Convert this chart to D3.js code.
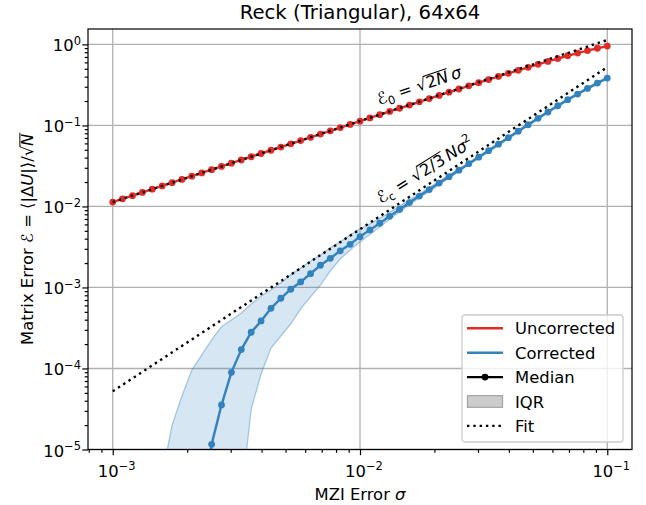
<!DOCTYPE html>
<html>
<head>
<meta charset="utf-8">
<script src="https://cdn.jsdelivr.net/npm/d3@7"></script>
<style>
  body { margin: 0; background: #fff; }
  text { font-family: "DejaVu Sans", sans-serif; fill: #000; }
</style>
</head>
<body>
<div class="canvas"></div>
<script>
// MZI error sigma (log spaced, 25 per decade)
const sigma = [0.001, 0.001096, 0.001202, 0.001318, 0.001445, 0.001585, 0.001738, 0.001905, 0.002089, 0.002291,
  0.002512, 0.002754, 0.00302, 0.003311, 0.003631, 0.003981, 0.004365, 0.004786, 0.005248, 0.005754,
  0.00631, 0.006918, 0.007586, 0.008318, 0.00912, 0.01, 0.010965, 0.012023, 0.013183, 0.014454,
  0.015849, 0.017378, 0.019055, 0.020893, 0.022909, 0.025119, 0.027542, 0.0302, 0.033113, 0.036308,
  0.039811, 0.043652, 0.047863, 0.052481, 0.057544, 0.063096, 0.069183, 0.075858, 0.083176, 0.091201, 0.1];

const uncorrected = [0.01131, 0.0124, 0.01359, 0.01491, 0.01634, 0.01793, 0.01966, 0.02155, 0.02363, 0.02591,
  0.02841, 0.03114, 0.03415, 0.03744, 0.04106, 0.04502, 0.04936, 0.05411, 0.05933, 0.06505,
  0.07132, 0.07818, 0.08572, 0.09398, 0.103, 0.1129, 0.1238, 0.1357, 0.1487, 0.1629,
  0.1785, 0.1956, 0.2143, 0.2347, 0.257, 0.2813, 0.3078, 0.3367, 0.3681, 0.4021,
  0.4391, 0.4789, 0.5219, 0.5679, 0.617, 0.669, 0.7237, 0.7804, 0.8385, 0.8968, 0.9534];

// corrected: median and quartiles (null = not plotted / far below the axis)
const correctedMedian = [null, null, null, null, null, null, null, null, null, 1e-6,
  1.16e-5, 3.55e-5, 8.97e-5, 1.71e-4, 2.8e-4, 3.86e-4, 5.53e-4, 7.36e-4, 9.51e-4, 1.17e-3,
  1.48e-3, 1.88e-3, 2.29e-3, 2.83e-3, 3.41e-3, 4.24e-3, 5.125e-3, 6.199e-3, 7.544e-3, 9.179e-3,
  0.011166, 0.013426, 0.016141, 0.019406, 0.023331, 0.028049, 0.033723, 0.040543, 0.048743, 0.058604,
  0.070457, 0.084709, 0.10184, 0.12243, 0.14634, 0.1749, 0.20777, 0.24378, 0.28585, 0.33278, 0.38441];

const correctedQ75 = [null, null, null, null, null, 4.8e-6, 2.0e-5, 4.57e-5, 9.57e-5, 1.47e-4,
  2.25e-4, 3.28e-4, 3.97e-4, 4.84e-4, 6.25e-4, 7.85e-4, 9.31e-4, 1.14e-3, 1.43e-3, 1.74e-3,
  2.12e-3, 2.52e-3, 3.08e-3, 3.65e-3, 4.45e-3, 5.27e-3, 6.1e-3, 7.13e-3, 8.45e-3, 0.0101,
  0.01206, 0.01437, 0.01711, 0.02038, 0.02438, 0.02917, 0.0349, 0.04196, 0.05045, 0.06066,
  0.07257, 0.08725, 0.1049, 0.1261, 0.1507, 0.1801, 0.214, 0.2511, 0.2944, 0.3428, 0.3959];

const correctedQ25 = [null, null, null, null, null, 1e-7, 1e-7, 1e-7, 1e-7, 1e-7,
  1e-7, 1e-7, 1e-7, 2.5e-6, 3.16e-5, 8.55e-5, 1.79e-4, 2.52e-4, 3.54e-4, 5.43e-4,
  7.64e-4, 1.07e-3, 1.6e-3, 2.25e-3, 2.9e-3, 3.65e-3, 4.51e-3, 5.58e-3, 6.94e-3, 8.54e-3,
  0.0105, 0.01269, 0.01533, 0.01853, 0.0224, 0.02707, 0.03264, 0.03925, 0.04718, 0.05673,
  0.06848, 0.08234, 0.09899, 0.119, 0.1422, 0.17, 0.202, 0.237, 0.2778, 0.3235, 0.3736];

// fits: sqrt(2N) sigma and sqrt(2/3) N sigma^2, N = 64
const fitSigma = [0.001, 0.1];
const fitUncorrected = [0.01131, 1.131];
const fitCorrected = [5.23e-5, 0.523];

const xTicks = [1e-3, 1e-2, 1e-1];
const xTickLabels = ['\u22123', '\u22122', '\u22121'];
const yTicks = [1e-5, 1e-4, 1e-3, 1e-2, 1e-1, 1];
const yTickLabels = ['\u22125', '\u22124', '\u22123', '\u22122', '\u22121', '0'];
const legendLabels = ['Uncorrected', 'Corrected', 'Median', 'IQR', 'Fit'];

const RED = '#de2d26';
const BLUE = '#3182bd';
const FS = 16.4;

const svg = d3.select('.canvas')
  .append('svg')
    .attr('width', 646)
    .attr('height', 505);

const plot = {left: 88, right: 632, top: 29, bottom: 449.5};

const x = d3.scaleLog()
  .domain([Math.pow(10, -3.1), Math.pow(10, -0.9)])
  .range([plot.left, plot.right]);
const y = d3.scaleLog()
  .domain([1e-5, Math.pow(10, 0.19)])
  .range([plot.bottom, plot.top]);

svg.append('clipPath').attr('id', 'clip')
  .append('rect')
    .attr('x', plot.left).attr('y', plot.top)
    .attr('width', plot.right - plot.left).attr('height', plot.bottom - plot.top);

// grid
const grid = svg.append('g');
grid.selectAll('.gx').data(xTicks).enter().append('line')
  .attr('x1', d => x(d)).attr('x2', d => x(d))
  .attr('y1', plot.top).attr('y2', plot.bottom)
  .attr('stroke', '#b0b0b0').attr('stroke-width', 1.3);
grid.selectAll('.gy').data(yTicks).enter().append('line')
  .attr('y1', d => y(d)).attr('y2', d => y(d))
  .attr('x1', plot.left).attr('x2', plot.right)
  .attr('stroke', '#b0b0b0').attr('stroke-width', 1.3);

const data = svg.append('g').attr('clip-path', 'url(#clip)');

// IQR band
const idx = d3.range(sigma.length);
const band = d3.area()
  .defined(i => correctedQ25[i] !== null && correctedQ75[i] !== null)
  .x(i => x(sigma[i]))
  .y0(i => y(correctedQ25[i]))
  .y1(i => y(correctedQ75[i]));
data.append('path').datum(idx)
  .attr('d', band)
  .attr('fill', BLUE).attr('fill-opacity', 0.2);
[correctedQ25, correctedQ75].forEach(q => {
  data.append('path').datum(idx)
    .attr('d', d3.line().defined(i => q[i] !== null).x(i => x(sigma[i])).y(i => y(q[i])))
    .attr('fill', 'none').attr('stroke', BLUE).attr('stroke-opacity', 0.4).attr('stroke-width', 1.3);
});

const drawSeries = (vals, color) => {
  const ok = i => vals[i] !== null;
  data.append('path').datum(idx)
    .attr('d', d3.line().defined(ok).x(i => x(sigma[i])).y(i => y(vals[i])))
    .attr('fill', 'none').attr('stroke', color).attr('stroke-width', 2.4);
  data.selectAll(null).data(idx.filter(ok)).enter().append('circle')
    .attr('cx', i => x(sigma[i])).attr('cy', i => y(vals[i]))
    .attr('r', 3.4).attr('fill', color);
};
drawSeries(uncorrected, RED);
drawSeries(correctedMedian, BLUE);

// fit lines
[fitUncorrected, fitCorrected].forEach(f => {
  data.append('path').datum([0, 1])
    .attr('d', d3.line().x(i => x(fitSigma[i])).y(i => y(f[i])))
    .attr('fill', 'none').attr('stroke', '#000').attr('stroke-width', 2.4)
    .attr('stroke-dasharray', '2.4,3.9');
});

// text with sub/superscripts and sqrt overline
function mathText(g, parts, size, anchor) {
  const t = g.append('text').attr('font-size', size).attr('text-anchor', anchor || 'start');
  let shift = 0;
  parts.forEach(p => {
    const target = p.sub ? size * 0.2 : p.sup ? -size * 0.42 : 0;
    const ts = t.append('tspan').text(p.t)
      .attr('dy', target - shift)
      .attr('font-size', (p.sub || p.sup) ? size * 0.7 : size);
    if (p.it) ts.attr('font-style', 'italic');
    shift = target;
  });
  const node = t.node();
  let k = 0, a = -1, b = -1;
  parts.forEach(p => {
    if (p.over) { if (a < 0) a = k; b = k + p.t.length - 1; }
    k += p.t.length;
  });
  if (a >= 0) {
    const x0 = node.getEndPositionOfChar(a - 1).x - 1;
    const x1 = node.getEndPositionOfChar(b).x + 1;
    g.append('line')
      .attr('x1', x0).attr('x2', x1)
      .attr('y1', -size * 0.8).attr('y2', -size * 0.8)
      .attr('stroke', '#000').attr('stroke-width', 1);
  }
  return t;
}

// annotations
const a0 = svg.append('g').attr('transform', 'translate(379,105) rotate(-18.5)');
mathText(a0, [{t: '\u2130'}, {t: '0', sub: true}, {t: ' = '}, {t: '\u221A'},
  {t: '2', over: true}, {t: 'N', it: true, over: true}, {t: '\u2009'}, {t: '\u03C3', it: true}], FS);
const a1 = svg.append('g').attr('transform', 'translate(381,204) rotate(-32)');
mathText(a1, [{t: '\u2130'}, {t: 'c', sub: true}, {t: ' = '}, {t: '\u221A'},
  {t: '2/3', over: true}, {t: '\u2009'}, {t: 'N', it: true}, {t: '\u03C3', it: true}, {t: '2', sup: true}], FS);

// axes
svg.append('g').attr('transform', `translate(0,${plot.bottom})`)
  .call(d3.axisBottom(x).tickValues(xTicks).tickFormat('').tickSize(5.7).tickSizeOuter(0));
const xMinor = [];
[-4, -3, -2, -1].forEach(e => d3.range(2, 10).forEach(m => {
  const v = m * Math.pow(10, e);
  if (v > x.domain()[0] && v < x.domain()[1]) xMinor.push(v);
}));
svg.append('g').attr('transform', `translate(0,${plot.bottom})`)
  .call(d3.axisBottom(x).tickValues(xMinor).tickFormat('').tickSize(3.3).tickSizeOuter(0));
svg.append('g').attr('transform', `translate(${plot.left},0)`)
  .call(d3.axisLeft(y).tickValues(yTicks).tickFormat('').tickSize(5.7).tickSizeOuter(0));
const yMinor = [];
[-5, -4, -3, -2, -1, 0].forEach(e => d3.range(2, 10).forEach(m => {
  const v = m * Math.pow(10, e);
  if (v > y.domain()[0] && v < y.domain()[1]) yMinor.push(v);
}));
svg.append('g').attr('transform', `translate(${plot.left},0)`)
  .call(d3.axisLeft(y).tickValues(yMinor).tickFormat('').tickSize(3.3).tickSizeOuter(0));
svg.selectAll('.domain').remove();
svg.selectAll('.tick line').attr('stroke', '#000').attr('stroke-width', 1.2);

xTicks.forEach((v, i) => {
  const g = svg.append('g').attr('transform', `translate(${x(v) + 4},477)`);
  mathText(g, [{t: '10'}, {t: xTickLabels[i], sup: true}], FS, 'middle');
});
yTicks.forEach((v, i) => {
  const g = svg.append('g').attr('transform', `translate(81,${y(v) + 7})`);
  mathText(g, [{t: '10'}, {t: yTickLabels[i], sup: true}], FS, 'end');
});

// frame
svg.append('rect')
  .attr('x', plot.left).attr('y', plot.top)
  .attr('width', plot.right - plot.left).attr('height', plot.bottom - plot.top)
  .attr('fill', 'none').attr('stroke', '#000').attr('stroke-width', 1.2);

// labels
svg.append('text').attr('x', 360).attr('y', 19).attr('text-anchor', 'middle')
  .attr('font-size', FS * 1.2).text('Reck (Triangular), 64x64');
const xl = svg.append('g').attr('transform', 'translate(360,500)');
mathText(xl, [{t: 'MZI Error '}, {t: '\u03C3', it: true}], FS, 'middle');
// y label starts (bottom) at y = 345 like the reference
const yl = svg.append('g').attr('transform', 'translate(33,345) rotate(-90)');
mathText(yl, [{t: 'Matrix Error '}, {t: '\u2130'}, {t: ' = \u27E8|\u0394'}, {t: 'U', it: true},
  {t: '|\u27E9/\u221A'}, {t: 'N', it: true, over: true}], FS, 'start');

// legend
const leg = svg.append('g').attr('transform', 'translate(462,315)');
leg.append('rect').attr('width', 161).attr('height', 127).attr('rx', 3)
  .attr('fill', '#fff').attr('fill-opacity', 0.8).attr('stroke', '#cccccc').attr('stroke-width', 1.3);
const rowY = i => 13.3 + i * 24.4;
legendLabels.forEach((lab, i) => {
  leg.append('text').attr('x', 53).attr('y', rowY(i) + 6).attr('font-size', FS).text(lab);
});
leg.append('line').attr('x1', 5).attr('x2', 41).attr('y1', rowY(0)).attr('y2', rowY(0))
  .attr('stroke', RED).attr('stroke-width', 2.4);
leg.append('line').attr('x1', 5).attr('x2', 41).attr('y1', rowY(1)).attr('y2', rowY(1))
  .attr('stroke', BLUE).attr('stroke-width', 2.4);
leg.append('line').attr('x1', 5).attr('x2', 41).attr('y1', rowY(2)).attr('y2', rowY(2))
  .attr('stroke', '#000').attr('stroke-width', 2.4);
leg.append('circle').attr('cx', 23).attr('cy', rowY(2)).attr('r', 3.4).attr('fill', '#000');
leg.append('rect').attr('x', 5.5).attr('y', rowY(3) - 5.8).attr('width', 35).attr('height', 11.6)
  .attr('fill', '#cccccc').attr('stroke', '#a6a6a6').attr('stroke-width', 1.3);
leg.append('line').attr('x1', 5).attr('x2', 41).attr('y1', rowY(4)).attr('y2', rowY(4))
  .attr('stroke', '#000').attr('stroke-width', 2.4).attr('stroke-dasharray', '2.4,3.9');
</script>
</body>
</html>
